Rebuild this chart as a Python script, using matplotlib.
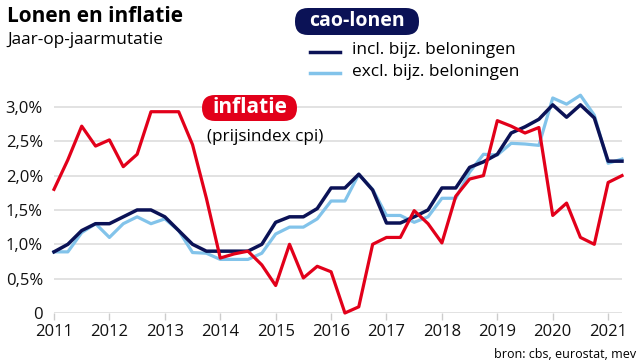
import matplotlib.pyplot as plt
from matplotlib.patches import FancyBboxPatch
import numpy as np

plt.rcParams['font.family'] = ['Open Sans', 'DejaVu Sans']

# kwartalen 2011 K1 t/m 2021 K2
jaren = [2011, 2012, 2013, 2014, 2015, 2016, 2017, 2018, 2019, 2020, 2021]
x = np.arange(42) / 4 + 2011

inflatie = [1.80, 2.23, 2.72, 2.43, 2.52, 2.13, 2.31, 2.93, 2.93, 2.93,
            2.45, 1.67, 0.80, 0.86, 0.90, 0.70, 0.40, 1.00, 0.51, 0.68,
            0.60, 0.00, 0.09, 1.00, 1.10, 1.10, 1.49, 1.30, 1.02, 1.70,
            1.95, 2.00, 2.80, 2.72, 2.62, 2.70, 1.42, 1.60, 1.10, 1.00,
            1.90, 2.00]
cao_incl = [0.89, 1.00, 1.20, 1.30, 1.30, 1.40, 1.50, 1.50, 1.40, 1.20,
            1.00, 0.90, 0.90, 0.90, 0.90, 1.00, 1.32, 1.40, 1.40, 1.52,
            1.82, 1.82, 2.02, 1.79, 1.31, 1.31, 1.40, 1.50, 1.82, 1.82,
            2.12, 2.20, 2.31, 2.62, 2.71, 2.82, 3.03, 2.85, 3.03, 2.84,
            2.21, 2.21]
cao_excl = [0.89, 0.89, 1.17, 1.30, 1.10, 1.30, 1.40, 1.30, 1.37, 1.20,
            0.88, 0.87, 0.78, 0.78, 0.78, 0.87, 1.15, 1.25, 1.25, 1.37,
            1.63, 1.63, 2.02, 1.80, 1.42, 1.42, 1.32, 1.40, 1.67, 1.67,
            2.05, 2.31, 2.30, 2.47, 2.46, 2.44, 3.13, 3.04, 3.17, 2.88,
            2.18, 2.24]
yticks = [0, 0.5, 1.0, 1.5, 2.0, 2.5, 3.0]
ylabels = ['0', '0,5%', '1,0%', '1,5%', '2,0%', '2,5%', '3,0%']

rood = '#e2001a'
navy = '#0b1256'
lichtblauw = '#82c3ea'

fig = plt.figure(figsize=(6.4, 3.6), dpi=100)
ax = fig.add_axes([54 / 640, 1 - 313 / 360, 568 / 640, 226.7 / 360])

ax.plot(x, cao_excl, color=lichtblauw, linewidth=2.3, clip_on=False)
ax.plot(x, cao_incl, color=navy, linewidth=2.5, clip_on=False)
ax.plot(x, inflatie, color=rood, linewidth=2.3, clip_on=False)

ax.set_xlim(2011, 2021.25)
ax.set_ylim(0, 3.3)
ax.set_yticks(yticks)
ax.set_yticklabels(ylabels)
ax.set_xticks(jaren)
ax.set_xticklabels([str(j) for j in jaren])
ax.grid(axis='y', color='#dddddd', linewidth=1.2)
ax.set_axisbelow(True)
for s in ax.spines.values():
    s.set_visible(False)
ax.tick_params(axis='y', length=0, labelsize=12, pad=8, colors='#111111')
ax.tick_params(axis='x', length=5, width=1, color='#cccccc', labelsize=12, pad=3, colors='#111111')
for t in ax.get_xticklabels():
    t.set_color('#111111')


def px(x0, y0):
    # pixelpositie (vanaf linksboven) naar figuurcoördinaten
    return x0 / 640, 1 - y0 / 360


# titels
fig.text(*px(7, 16), 'Lonen en inflatie', fontsize=15, fontweight='bold', va='center')
fig.text(*px(7, 40), 'Jaar-op-jaarmutatie', fontsize=12.4, va='center')

# afgeronde labels (in pixels, dpi = 100)
fig.add_artist(FancyBboxPatch((295, 360 - 35), 124, 27, boxstyle='round,pad=0,rounding_size=13',
                              fc=navy, ec='none', transform=None))
fig.add_artist(FancyBboxPatch((202, 360 - 121), 95, 26, boxstyle='round,pad=0,rounding_size=13',
                              fc=rood, ec='none', transform=None))

# legenda cao-lonen
fig.text(*px(357, 21), 'cao-lonen', fontsize=14, fontweight='bold', color='white',
         ha='center', va='center')
fig.add_artist(plt.Line2D([310 / 640, 340 / 640], [1 - 52 / 360] * 2, color=navy, linewidth=2.5))
fig.add_artist(plt.Line2D([310 / 640, 340 / 640], [1 - 73 / 360] * 2, color=lichtblauw, linewidth=2.5))
fig.text(*px(352, 50), 'incl. bijz. beloningen', fontsize=12.4, va='center')
fig.text(*px(352, 72), 'excl. bijz. beloningen', fontsize=12.4, va='center')

# inflatie label
fig.text(*px(249.5, 107), 'inflatie', fontsize=15, fontweight='bold', color='white',
         ha='center', va='center')
fig.text(*px(207, 137), '(prijsindex cpi)', fontsize=12.3, va='center')

fig.text(*px(636, 354), 'bron: cbs, eurostat, mev', fontsize=9, ha='right', va='center')

fig.savefig('out.png', dpi=100)
